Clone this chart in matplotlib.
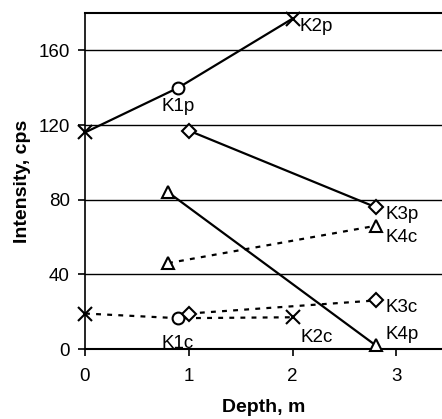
import matplotlib
matplotlib.use("Agg")
import matplotlib.pyplot as plt

plt.rcParams['font.family'] = ['Liberation Sans', 'DejaVu Sans']

# solid lines (p), dotted lines (c)
k12p_x = [0, 0.9, 2.0]
k12p_y = [116, 140, 177]
k12p_m = ['x', 'o', 'x']
k3p_x = [1.0, 2.8]
k3p_y = [117, 76]
k4p_x = [0.8, 2.8]
k4p_y = [84, 2]
k4c_x = [0.8, 2.8]
k4c_y = [46, 66]
k12c_x = [0, 0.9, 2.0]
k12c_y = [19, 16.5, 17]
k12c_m = ['x', 'o', 'x']
k3c_x = [1.0, 2.8]
k3c_y = [19, 26]

labels = ['K1p', 'K2p', 'K3p', 'K4c', 'K3c', 'K4p', 'K2c', 'K1c']
label_x = [0.9, 2.07, 2.9, 2.9, 2.9, 2.9, 2.08, 0.89]
label_y = [130, 173, 72, 60, 22, 8, 6, 3]
label_ha = ['center', 'left', 'left', 'left', 'left', 'left', 'left', 'center']

fig = plt.figure(figsize=(4.42, 4.19), dpi=100)
ax = fig.add_axes([85 / 442, 70 / 419, 357 / 442, 336 / 419])

dash = (0, (2.2, 2.8))
mk = dict(color='black', mfc='white', mec='black', mew=1.5, clip_on=False)
sizes = {'x': 10, 'o': 8.5, 'D': 7, '^': 9}

def draw(xs, ys, marks, ls):
    ax.plot(xs, ys, color='black', lw=1.6, ls=ls, zorder=3)
    for x, y, m in zip(xs, ys, marks):
        ax.plot([x], [y], marker=m, ms=sizes[m], ls='none', zorder=4, **mk)

draw(k12p_x, k12p_y, k12p_m, '-')
draw(k3p_x, k3p_y, ['D', 'D'], '-')
draw(k4p_x, k4p_y, ['^', '^'], '-')
draw(k4c_x, k4c_y, ['^', '^'], dash)
draw(k12c_x, k12c_y, k12c_m, dash)
draw(k3c_x, k3c_y, ['D', 'D'], dash)

for t, x, y, ha in zip(labels, label_x, label_y, label_ha):
    ax.text(x, y, t, ha=ha, va='center', fontsize=13.5)

ax.set_xlim(0, 3.44)
ax.set_ylim(0, 180)
ax.set_xticks([0, 1, 2, 3])
ax.set_yticks([0, 40, 80, 120, 160])
ax.yaxis.grid(True, color='black', lw=1.0)
ax.set_axisbelow(True)
ax.spines['right'].set_visible(False)
ax.spines['top'].set_linewidth(1.5)
ax.spines['bottom'].set_linewidth(1.5)
ax.spines['left'].set_linewidth(1.2)
ax.tick_params(labelsize=13.5, width=1.2, length=5, direction='out')
ax.tick_params(axis='x', pad=9)
ax.tick_params(axis='y', pad=6)
ax.set_xlabel('Depth, m', fontsize=14, fontweight='bold', labelpad=10)
ax.set_ylabel('Intensity, cps', fontsize=14, fontweight='bold', labelpad=5)

fig.savefig('out.png', dpi=100)
